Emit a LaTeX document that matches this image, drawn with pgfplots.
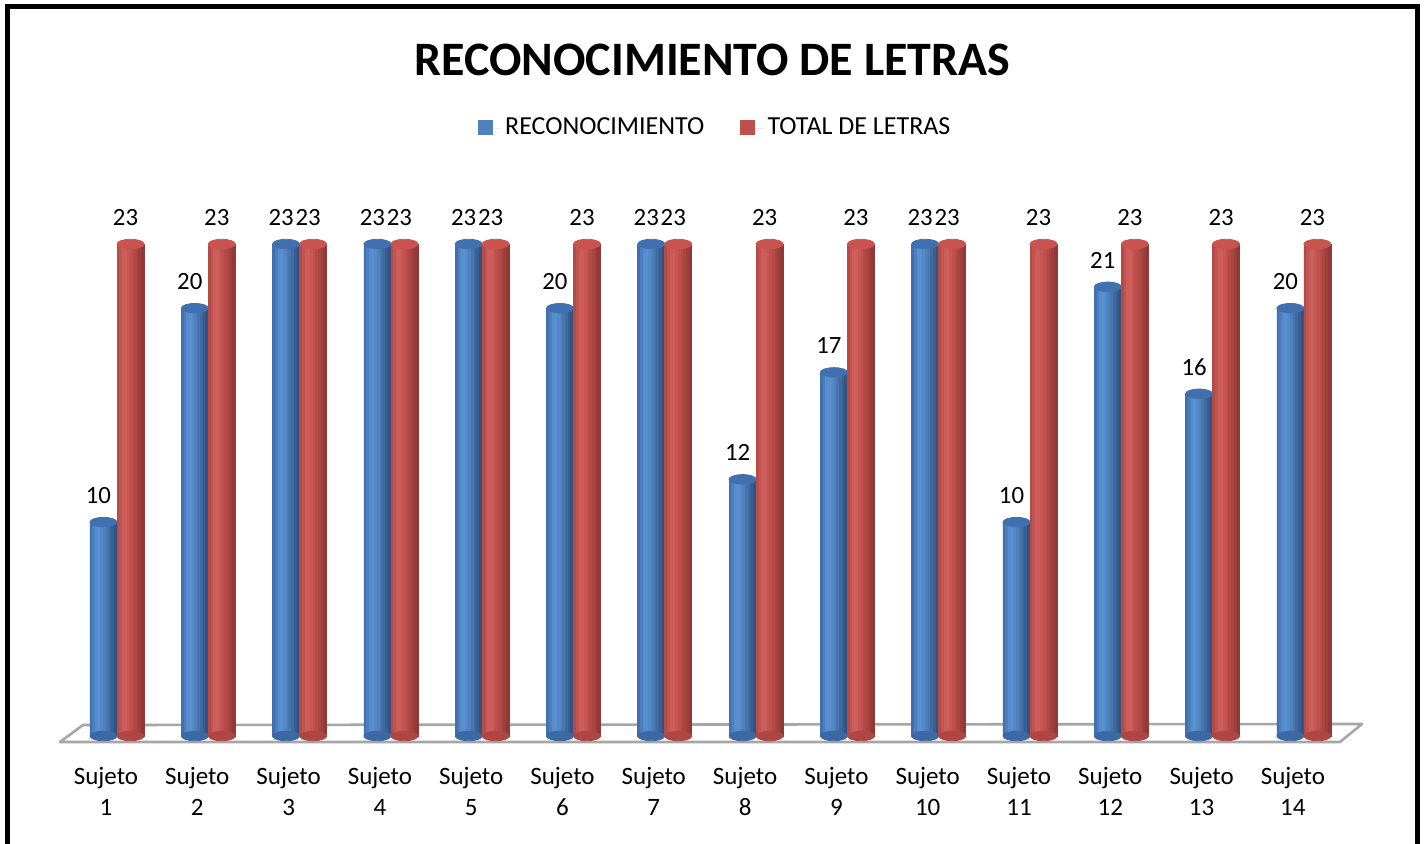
\documentclass[border=0pt]{standalone}
\usepackage{pgfplots}
\pgfplotsset{compat=1.18}
\usepackage{pgfplotstable}
\usepackage{fontspec}
\setmainfont{Carlito}

\definecolor{bL}{HTML}{3C69A4}
\definecolor{bH}{HTML}{5C94D8}
\definecolor{bM}{HTML}{4F81BD}
\definecolor{bR}{HTML}{2D4F7C}
\definecolor{bTop}{HTML}{4170AF}
\definecolor{rL}{HTML}{AE4643}
\definecolor{rH}{HTML}{D2625E}
\definecolor{rM}{HTML}{C0504D}
\definecolor{rR}{HTML}{8C3633}
\definecolor{rTop}{HTML}{C9534F}
\definecolor{floorgray}{HTML}{A6A6A6}

\colorlet{b0}{bH!17!bL}\colorlet{b1}{bH!50!bL}\colorlet{b2}{bH!83!bL}
\colorlet{b3}{bM!20!bH}\colorlet{b4}{bM!60!bH}\colorlet{b5}{bM}
\colorlet{b6}{bR!22!bM}\colorlet{b7}{bR!44!bM}\colorlet{b8}{bR!67!bM}\colorlet{b9}{bR!89!bM}
\colorlet{r0}{rH!17!rL}\colorlet{r1}{rH!50!rL}\colorlet{r2}{rH!83!rL}
\colorlet{r3}{rM!20!rH}\colorlet{r4}{rM!60!rH}\colorlet{r5}{rM}
\colorlet{r6}{rR!22!rM}\colorlet{r7}{rR!44!rM}\colorlet{r8}{rR!67!rM}\colorlet{r9}{rR!89!rM}

\pgfplotstableread{
x rec tot
1 10 23
2 20 23
3 23 23
4 23 23
5 23 23
6 20 23
7 23 23
8 12 23
9 17 23
10 23 23
11 10 23
12 21 23
13 16 23
14 20 23
}\datatable

\pgfplotsset{
  strip/.style={forget plot, ybar, bar width=0.0296, bar shift=#1, line width=0.35pt},
}

\begin{document}
\begin{tikzpicture}
\useasboundingbox (0,0) rectangle (712pt,421.5pt);
\begin{scope}[x=0.5pt,y=0.5pt]
  \filldraw[fill=white, draw=floorgray, line width=1.3pt, line join=round]
    (60,101) -- (1340,101) -- (1362,119) -- (83,118) -- cycle;
  \node[anchor=base, font=\fontsize{24}{28}\selectfont\bfseries] at (712.5,768) {RECONOCIMIENTO DE LETRAS};
  \draw[line width=2.5pt, line join=miter] (7.5,-10) -- (7.5,836) -- (1417.5,836) -- (1417.5,-10);
\end{scope}
\begin{axis}[
  at={(35.675pt,53.5pt)}, anchor=south west,
  scale only axis, width=639.1pt, height=246pt,
  xmin=0.5, xmax=14.5, ymin=0, ymax=23,
  clip=false,
  axis line style={draw=none},
  tick style={draw=none},
  ytick=\empty,
  xtick={1,...,14},
  xticklabels={{Sujeto\\1},{Sujeto\\2},{Sujeto\\3},{Sujeto\\4},{Sujeto\\5},{Sujeto\\6},{Sujeto\\7},{Sujeto\\8},{Sujeto\\9},{Sujeto\\10},{Sujeto\\11},{Sujeto\\12},{Sujeto\\13},{Sujeto\\14}},
  xticklabel style={align=center, font=\fontsize{12.5}{15.5}\selectfont, inner sep=0pt, anchor=north, yshift=-15.5pt, xshift=-5.5pt},
  /pgf/number format/assume math mode=true,
  legend columns=2,
  legend style={at={(0.5045,1.2358)}, anchor=center, draw=none, fill=none,
    font=\fontsize{13}{15.6}\selectfont,
    /tikz/every even column/.append style={column sep=16pt}},
  legend image code/.code={\path (0pt,0pt) rectangle (11.6pt,0pt);\fill[#1] (0pt,-3.3pt) rectangle (7.4pt,4.1pt);},
  nodes near coords style={font=\fontsize{12.4}{14}\selectfont, inner sep=0pt, anchor=south, yshift=9pt, xshift=-2.5pt, text=black},
]
\addlegendimage{fill=bM, draw=none}
\addlegendentry{RECONOCIMIENTO}
\addlegendimage{fill=rM, draw=none}
\addlegendentry{TOTAL DE LETRAS}

% bottom ellipses
\addplot[forget plot, color=bL, only marks, mark=*, mark size=6.75pt, mark options={yscale=0.35}]
  table[x expr=\thisrow{x}-0.148, y expr=0] \datatable;
\addplot[forget plot, color=rL, only marks, mark=*, mark size=6.75pt, mark options={yscale=0.35}]
  table[x expr=\thisrow{x}+0.148, y expr=0] \datatable;
% blue bodies (strips left to right)
\addplot[strip=-0.2812, fill=b0, draw=b0] table[x=x, y=rec] \datatable;
\addplot[strip=-0.2516, fill=b1, draw=b1] table[x=x, y=rec] \datatable;
\addplot[strip=-0.2220, fill=b2, draw=b2] table[x=x, y=rec] \datatable;
\addplot[strip=-0.1924, fill=b3, draw=b3] table[x=x, y=rec] \datatable;
\addplot[strip=-0.1628, fill=b4, draw=b4] table[x=x, y=rec] \datatable;
\addplot[strip=-0.1332, fill=b5, draw=b5] table[x=x, y=rec] \datatable;
\addplot[strip=-0.1036, fill=b6, draw=b6] table[x=x, y=rec] \datatable;
\addplot[strip=-0.0740, fill=b7, draw=b7] table[x=x, y=rec] \datatable;
\addplot[strip=-0.0444, fill=b8, draw=b8] table[x=x, y=rec] \datatable;
\addplot[strip=-0.0148, fill=b9, draw=b9] table[x=x, y=rec] \datatable;
% red bodies
\addplot[strip=0.0148, fill=r0, draw=r0] table[x=x, y=tot] \datatable;
\addplot[strip=0.0444, fill=r1, draw=r1] table[x=x, y=tot] \datatable;
\addplot[strip=0.0740, fill=r2, draw=r2] table[x=x, y=tot] \datatable;
\addplot[strip=0.1036, fill=r3, draw=r3] table[x=x, y=tot] \datatable;
\addplot[strip=0.1332, fill=r4, draw=r4] table[x=x, y=tot] \datatable;
\addplot[strip=0.1628, fill=r5, draw=r5] table[x=x, y=tot] \datatable;
\addplot[strip=0.1924, fill=r6, draw=r6] table[x=x, y=tot] \datatable;
\addplot[strip=0.2220, fill=r7, draw=r7] table[x=x, y=tot] \datatable;
\addplot[strip=0.2516, fill=r8, draw=r8] table[x=x, y=tot] \datatable;
\addplot[strip=0.2812, fill=r9, draw=r9] table[x=x, y=tot] \datatable;
% top caps with labels
\addplot[forget plot, color=bTop, only marks, mark=*, mark size=6.75pt, mark options={yscale=0.35}, nodes near coords]
  table[x expr=\thisrow{x}-0.148, y=rec] \datatable;
\addplot[forget plot, color=rTop, only marks, mark=*, mark size=6.75pt, mark options={yscale=0.35}, nodes near coords]
  table[x expr=\thisrow{x}+0.148, y=tot] \datatable;
\end{axis}
\end{tikzpicture}
\end{document}
